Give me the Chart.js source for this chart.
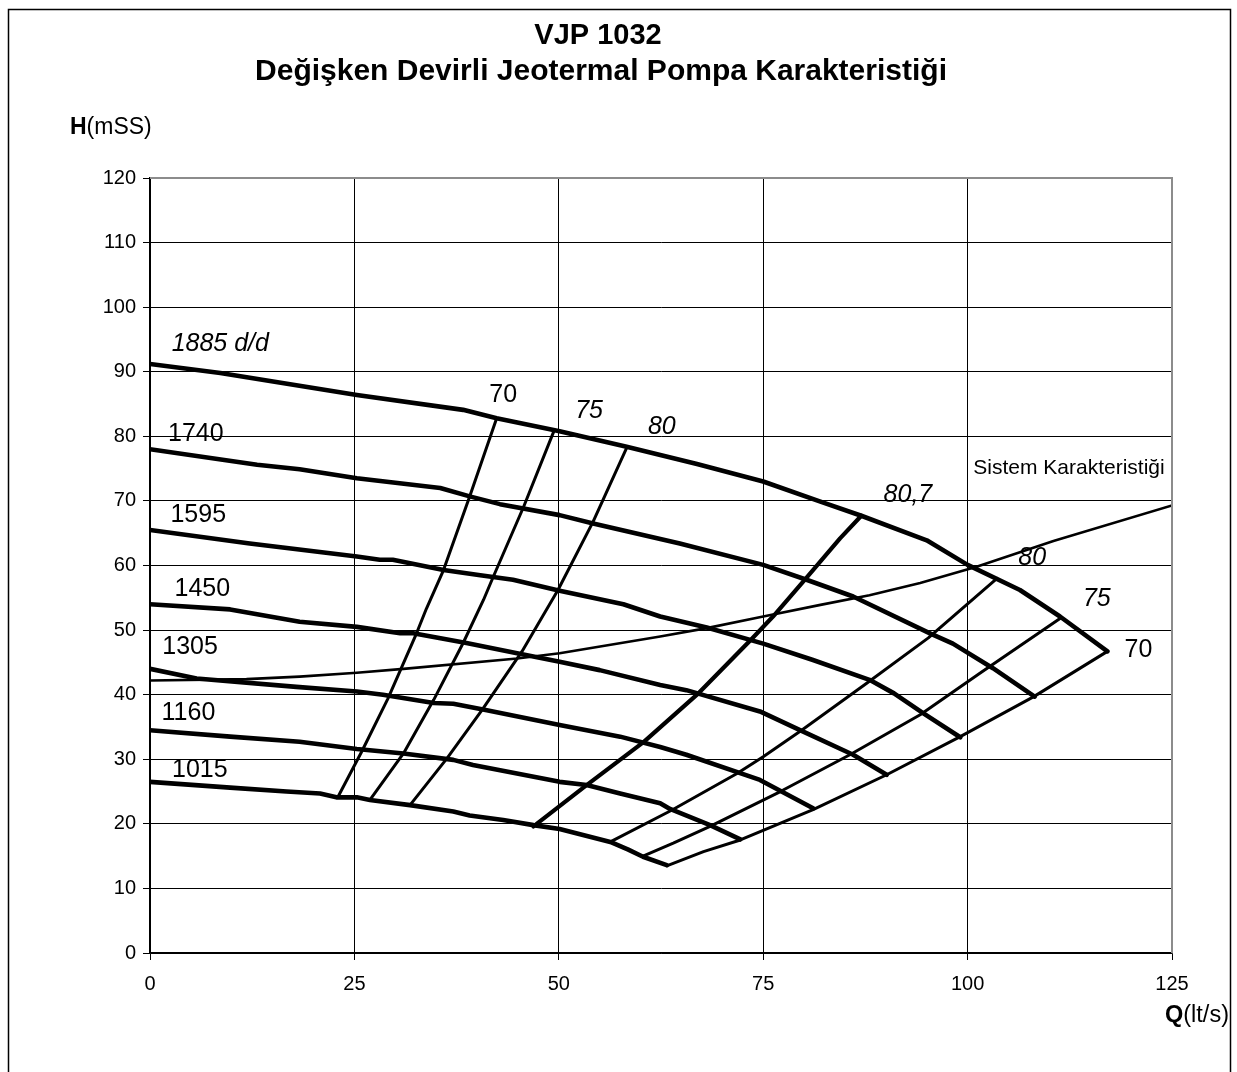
<!DOCTYPE html>
<html>
<head>
<meta charset="utf-8">
<script src="https://cdn.jsdelivr.net/npm/chart.js@4.4.1/dist/chart.umd.min.js"></script>
<style>
	html, body { margin: 0; padding: 0; background: #fff; }
	canvas { display: block; }
</style>
</head>
<body>
<canvas id="pump-chart" width="1237" height="1072"></canvas>
<script>
// axis ranges / ticks
const qTicks = [ 0, 25, 50, 75, 100, 125 ];
const hTicks = [ 0, 10, 20, 30, 40, 50, 60, 70, 80, 90, 100, 110, 120 ];

// speed curves (d/d), [Q lt/s, H mSS]
const n1885 = [ [0,91.2],[8.6,89.8],[25.3,86.4],[38.3,84.1],[42.4,82.8],[50.1,80.8],[58.3,78.4],[66.9,75.7],[75,73],[82,69.9],[87,67.7],[95,63.9],[100,60.1],[106.4,56.2],[111.3,52.1],[117.1,46.7] ];
const n1740 = [ [0,78],[13.1,75.6],[18.3,74.9],[25.3,73.5],[35.5,72],[39.1,70.7],[42.8,69.5],[50.1,67.8],[54.2,66.5],[64.8,63.4],[75,60.1],[80.3,57.8],[86,55.2],[95.4,49.5],[98.2,47.9],[103.1,44.1],[108.2,39.7] ];
const n1595 = [ [0,65.5],[12.2,63.4],[25.3,61.4],[28.1,60.9],[29.7,60.9],[35.9,59.3],[40.4,58.5],[44.4,57.8],[50.1,56.1],[57.9,54],[62.4,52.1],[68.1,50.4],[75,47.9],[81,45.4],[88,42.3],[91,40.2],[94.6,37.1],[99.1,33.4] ];
const n1450 = [ [0,54],[9.8,53.2],[18.3,51.3],[25.3,50.5],[30.6,49.5],[32.2,49.5],[38.7,48],[44.9,46.4],[50.1,45.1],[55,43.8],[62.4,41.5],[65.6,40.7],[74.6,37.4],[79.5,34.5],[86,30.7],[90.1,27.6] ];
const n1305 = [ [0,44],[5.7,42.5],[17.9,41.2],[25.3,40.5],[28.5,40],[34.7,38.7],[37.1,38.6],[41.2,37.6],[50.1,35.3],[57.5,33.5],[62.4,31.9],[65.6,30.7],[74.6,26.8],[81.1,22.4] ];
const n1160 = [ [0,34.5],[9.8,33.5],[18.3,32.7],[25.3,31.6],[31,30.9],[37.1,29.9],[39.5,29.1],[50.1,26.5],[53.4,26],[57.5,24.7],[62.4,23.2],[63.6,22.3],[68.5,19.8],[72.2,17.6] ];
const n1015 = [ [0,26.5],[9.8,25.6],[16.7,25],[20.8,24.7],[22.8,24.1],[25.3,24.1],[26.9,23.7],[31.8,22.9],[37.1,21.9],[39.1,21.3],[43.2,20.6],[46.9,19.8],[50.1,19.2],[56.3,17.2],[58.5,16],[60.3,14.9],[63.2,13.6] ];

// iso-efficiency lines (%)
const eff70L = [ [42.4,82.8],[39.1,70.7],[35.9,59.3],[33.8,53.3],[32.6,49.5],[29.1,39.4],[25.9,31.2],[23,24.2] ];
const eff75L = [ [49.4,80.8],[45.7,69.1],[42,58.3],[40.8,54.7],[38.3,48],[34.7,39.2],[31,30.9],[26.9,23.7] ];
const eff80L = [ [58.3,78.2],[54.2,66.8],[49.9,56.2],[45.5,46.7],[40.6,37.6],[36.3,30.1],[31.8,22.9] ];
const eff807 = [ [87,67.7],[84.4,64.2],[80.1,57.8],[76.2,52.1],[73.5,48.5],[66.9,40],[60.4,32.7],[53.4,26],[46.9,19.6] ];
const eff80R = [ [56.3,17.2],[63.8,22.1],[71.8,27.8],[75,30.4],[79.7,34.5],[87.7,41.8],[95.2,48.8],[103.6,58] ];
const eff75R = [ [60.3,15],[64,17],[68.5,19.6],[77.1,25],[85.6,30.7],[94.2,36.9],[101.5,43.3],[111.3,51.8] ];
const eff70R = [ [63.2,13.5],[67.7,15.7],[72.2,17.5],[81.1,22.2],[90.1,27.6],[99.1,33.5],[108.1,39.7],[117.1,46.7] ];

// system characteristic
const system = [ [0,42.2],[11.8,42.4],[18.3,42.8],[25.3,43.4],[31,44],[44.9,45.6],[50.1,46.4],[62.4,49],[68.1,50.3],[75,52.1],[82,53.9],[88,55.4],[94.2,57.3],[101.1,59.8],[110.5,63.8],[125,69.3] ];

// curve labels: text, Q, H (label centre), italic
const curveLabels = [
	[ '1885 d/d', 8.6, 94.3, true ],
	[ '1740', 5.6, 80.4, false ],
	[ '1595', 5.9, 67.8, false ],
	[ '1450', 6.4, 56.4, false ],
	[ '1305', 4.9, 47.4, false ],
	[ '1160', 4.7, 37.2, false ],
	[ '1015', 6.1, 28.3, false ],
	[ '70', 43.2, 86.4, false ],
	[ '75', 53.7, 83.9, true ],
	[ '80', 62.6, 81.5, true ],
	[ '80,7', 92.7, 70.9, true ],
	[ '80', 107.9, 61.2, true ],
	[ '75', 115.8, 54.8, true ],
	[ '70', 120.9, 46.9, false ],
];

const FONT = '"Liberation Sans", Arial, sans-serif';

function toXY( pts ) {
	return pts.map( ( p ) => ( { x: p[0], y: p[1] } ) );
}

function curve( pts, width ) {
	return {
		data: toXY( pts ),
		borderColor: '#000',
		borderWidth: width,
		pointRadius: 0,
		fill: false,
		tension: 0,
		borderJoinStyle: 'round',
		borderCapStyle: 'round',
	};
}

const datasets = [
	curve( system, 2.6 ),
	curve( eff70L, 3 ),
	curve( eff75L, 3 ),
	curve( eff80L, 3 ),
	curve( eff80R, 3 ),
	curve( eff75R, 3 ),
	curve( eff70R, 3 ),
	curve( eff807, 4.2 ),
	curve( n1885, 4.6 ),
	curve( n1740, 4.6 ),
	curve( n1595, 4.6 ),
	curve( n1450, 4.6 ),
	curve( n1305, 4.6 ),
	curve( n1160, 4.6 ),
	curve( n1015, 4.6 ),
];

const decorations = {
	id: 'decorations',
	afterDraw( chart ) {
		const ctx = chart.ctx;
		const area = chart.chartArea;
		const xs = chart.scales.x;
		const ys = chart.scales.y;
		ctx.save();

		// outer frame
		ctx.strokeStyle = '#000';
		ctx.lineWidth = 1.5;
		ctx.strokeRect( 8.5, 9.5, 1222, 1100 );

		// plot frame top / right (grey)
		ctx.strokeStyle = '#8c8c8c';
		ctx.lineWidth = 2;
		ctx.beginPath();
		ctx.moveTo( area.left, area.top );
		ctx.lineTo( area.right, area.top );
		ctx.lineTo( area.right, area.bottom );
		ctx.stroke();

		// titles
		ctx.fillStyle = '#000';
		ctx.textAlign = 'center';
		ctx.textBaseline = 'middle';
		ctx.font = 'bold 29px ' + FONT;
		ctx.fillText( 'VJP 1032', 598, 36 );
		ctx.font = 'bold 30px ' + FONT;
		ctx.fillText( 'Değişken Devirli Jeotermal Pompa Karakteristiği', 601, 72 );

		// axis titles
		ctx.textAlign = 'left';
		ctx.font = 'bold 23px ' + FONT;
		ctx.fillText( 'H', 70, 128 );
		let w = ctx.measureText( 'H' ).width;
		ctx.font = '23px ' + FONT;
		ctx.fillText( '(mSS)', 70 + w, 128 );

		ctx.font = 'bold 23.5px ' + FONT;
		ctx.fillText( 'Q', 1165, 1016 );
		w = ctx.measureText( 'Q' ).width;
		ctx.font = '23.5px ' + FONT;
		ctx.fillText( '(lt/s)', 1165 + w, 1016 );

		// curve labels
		ctx.textAlign = 'center';
		curveLabels.forEach( ( l ) => {
			ctx.font = ( l[3] ? 'italic ' : '' ) + '25px ' + FONT;
			ctx.fillText( l[0], xs.getPixelForValue( l[1] ), ys.getPixelForValue( l[2] ) );
		} );

		ctx.font = '21px ' + FONT;
		ctx.fillText( 'Sistem Karakteristiği', xs.getPixelForValue( 112.4 ), ys.getPixelForValue( 75.1 ) );

		ctx.restore();
	},
};

new Chart( document.getElementById( 'pump-chart' ), {
	type: 'scatter',
	data: { datasets },
	options: {
		responsive: false,
		animation: false,
		showLine: true,
		layout: { padding: { left: 0, top: 178, right: 65, bottom: 0 } },
		plugins: {
			legend: { display: false },
			tooltip: { enabled: false },
		},
		scales: {
			x: {
				type: 'linear',
				min: 0,
				max: 125,
				afterFit: ( s ) => { s.height = 119; },
				afterBuildTicks: ( s ) => { s.ticks = qTicks.map( ( v ) => ( { value: v } ) ); },
				ticks: { color: '#000', font: { family: FONT, size: 20 }, padding: 12 },
				grid: { color: '#000', lineWidth: 1, tickLength: 7, tickColor: '#000' },
				border: { color: '#000', width: 1.5 },
			},
			y: {
				type: 'linear',
				min: 0,
				max: 120,
				afterFit: ( s ) => { s.width = 150; },
				afterBuildTicks: ( s ) => { s.ticks = hTicks.map( ( v ) => ( { value: v } ) ); },
				ticks: { color: '#000', font: { family: FONT, size: 20 }, padding: 7 },
				grid: { color: '#000', lineWidth: 1, tickLength: 7, tickColor: '#000' },
				border: { color: '#000', width: 1.5 },
			},
		},
	},
	plugins: [ decorations ],
} );
</script>
</body>
</html>
